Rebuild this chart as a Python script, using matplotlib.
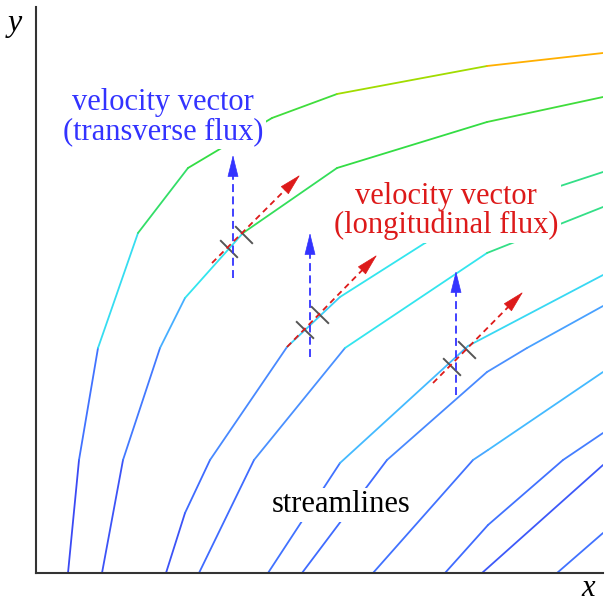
import numpy as np
import matplotlib
matplotlib.use("Agg")
import matplotlib.pyplot as plt
from matplotlib.collections import LineCollection
from matplotlib.colors import LinearSegmentedColormap

# streamline vertices (x, y) measured from the axis corner, and a flow value per segment
LINES = [
    [(32, 0), (43, 113), (62, 225), (102, 340), (152, 405), (236, 455), (301, 479), (451, 507), (567, 520)],
    [(66, 0), (87, 113), (124, 225), (149, 275), (207, 340), (301, 405), (451, 451), (567, 476)],
    [(130, 0), (149, 60), (174, 113), (251, 226), (304, 276), (389, 330), (451, 363), (567, 401)],
    [(163, 0), (218, 113), (309, 225), (451, 320), (567, 366)],
    [(232, 0), (304, 110), (432, 227), (567, 298)],
    [(266, 0), (351, 113), (451, 201), (491, 225), (567, 267)],
    [(337, 0), (437, 113), (452, 123), (567, 201)],
    [(409, 0), (452, 48), (527, 113), (567, 140)],
    [(446, 0), (567, 108)],
    [(521, 0), (567, 40)],
]
FLOW = [
    [0.03, 0.12, 0.38, 0.55, 0.58, 0.6, 0.75, 0.95],
    [0.05, 0.14, 0.27, 0.4, 0.56, 0.58, 0.6],
    [0.05, 0.1, 0.18, 0.35, 0.4, 0.45, 0.52],
    [0.1, 0.2, 0.4, 0.52],
    [0.12, 0.3, 0.37],
    [0.1, 0.18, 0.2, 0.24],
    [0.12, 0.25, 0.3],
    [0.1, 0.12, 0.15],
    [0.06],
    [0.12],
]

# velocity vectors: transverse (vertical, blue) and longitudinal (red), start -> tip
TRANSVERSE = [((197, 295), (197, 418)), ((274, 216), (274, 340)), ((420, 178), (420, 302))]
LONGITUDINAL = [((176, 310), (264, 398)), ((251, 226), (341, 318)), ((397, 190), (487, 281))]
# flux section marks on the streamlines
MARKS = [[(193, 324), (208, 338)], [(269, 243), (284, 258)], [(416, 206), (431, 223)]]

BLUE, RED, GRAY = "#3333ff", "#dd1a1a", "#555555"
SERIF = ["Liberation Serif", "DejaVu Serif"]

cmap = LinearSegmentedColormap.from_list("flow", [
    (0.0, "#3a3df0"), (0.1, "#3f6cff"), (0.2, "#4a90ff"), (0.3, "#44bbff"),
    (0.4, "#33e5ee"), (0.5, "#33e0a0"), (0.58, "#33dd44"), (0.75, "#a0dd00"),
    (0.95, "#ffb000"), (1.0, "#ffa000")])

fig = plt.figure(figsize=(6.05, 6.02), dpi=100)
ax = fig.add_axes([36 / 605, 29 / 602, 567 / 605, 566 / 602])
ax.set_xlim(0, 567)
ax.set_ylim(0, 566)
for s in ("top", "right"):
    ax.spines[s].set_visible(False)
for s in ("left", "bottom"):
    ax.spines[s].set_color("#333333")
    ax.spines[s].set_linewidth(1.5)
ax.set_xticks([])
ax.set_yticks([])

for pts, vals in zip(LINES, FLOW):
    p = np.array(pts, float)
    segs = np.stack([p[:-1], p[1:]], axis=1)
    lc = LineCollection(segs, cmap=cmap, norm=plt.Normalize(0, 1), linewidths=1.3,
                        capstyle="round", zorder=2)
    lc.set_array(np.array(vals))
    ax.add_collection(lc)

HEAD = 20  # px (= data units here)


def dashed_arrow(p0, p1, color, dash):
    p0, p1 = np.array(p0, float), np.array(p1, float)
    u = (p1 - p0) / np.hypot(*(p1 - p0))
    base = p1 - u * HEAD
    ax.plot([p0[0], base[0]], [p0[1], base[1]], color=color, lw=1.3,
            linestyle=(0, dash), zorder=4)
    ax.annotate("", xy=p1, xytext=base,
                arrowprops=dict(arrowstyle="-|>,head_length=14.4,head_width=3.6",
                                mutation_scale=1, color=color, lw=0.5,
                                shrinkA=0, shrinkB=0), zorder=5)


for (p0, p1), marks in zip(LONGITUDINAL, MARKS):
    d = np.array(p1, float) - np.array(p0, float)
    u = d / np.hypot(*d)
    perp = np.array([u[1], -u[0]]) * 11.5
    for m in marks:
        m = np.array(m, float)
        ax.plot([m[0] - perp[0], m[0] + perp[0]], [m[1] - perp[1], m[1] + perp[1]],
                color=GRAY, lw=1.4, zorder=3)

for p0, p1 in TRANSVERSE:
    dashed_arrow(p0, p1, BLUE, (4.4, 2.4))
for p0, p1 in LONGITUDINAL:
    dashed_arrow(p0, p1, RED, (3.3, 2.4))

box = dict(facecolor="white", edgecolor="none", pad=2)
ax.text(127, 456, "velocity vector\n(transverse flux)", color=BLUE, fontsize=22,
        family=SERIF, ha="center", va="center", linespacing=1.0, bbox=box, zorder=6)
ax.text(410, 362, "velocity vector\n(longitudinal flux)", color=RED, fontsize=22,
        family=SERIF, ha="center", va="center", linespacing=1.0, bbox=box, zorder=6)
ax.text(305, 68, "streamlines", color="black", fontsize=22, family=SERIF,
        ha="center", va="center", bbox=dict(facecolor="white", edgecolor="none", pad=2),
        zorder=6)
ax.text(-21, 550, "y", fontsize=23, family=SERIF, style="italic", ha="center",
        va="center", clip_on=False)
ax.text(552, -15, "x", fontsize=22, family=SERIF, style="italic", ha="center",
        va="center", clip_on=False)

fig.savefig("out.png", dpi=100)
